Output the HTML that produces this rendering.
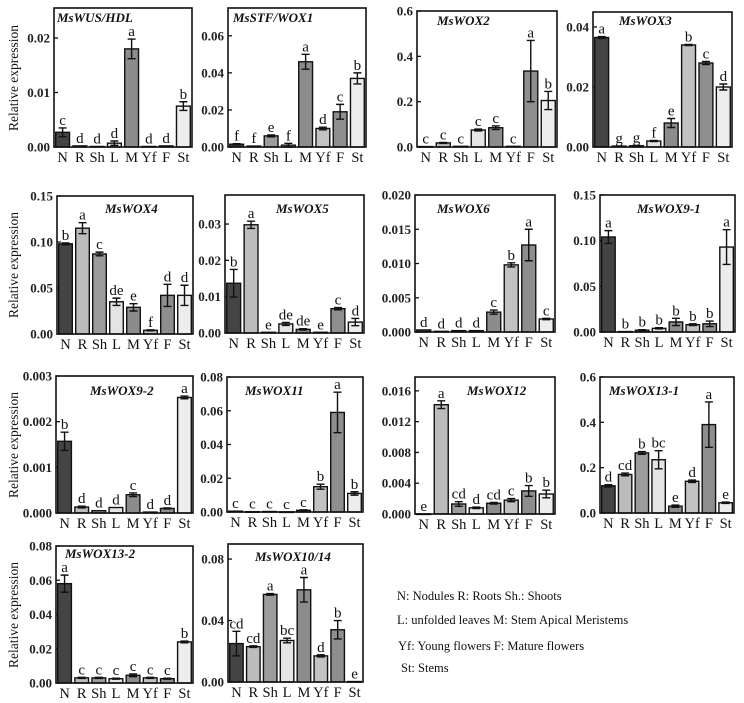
<!DOCTYPE html>
<html><head><meta charset="utf-8">
<style>
html,body{margin:0;padding:0;background:#fff;}
svg{display:block;font-family:"Liberation Serif",serif;}
</style></head>
<body>
<svg id="fig" width="744" height="703" viewBox="0 0 744 703" xmlns="http://www.w3.org/2000/svg">
<g font-size="13.5" fill="#111">
<text transform="translate(18,78) rotate(-90)" text-anchor="middle">Relative expression</text>
<text transform="translate(18,265) rotate(-90)" text-anchor="middle">Relative expression</text>
<text transform="translate(18,445) rotate(-90)" text-anchor="middle">Relative expression</text>
<text transform="translate(18,615) rotate(-90)" text-anchor="middle">Relative expression</text>
</g>
<g font-size="12.5" fill="#111">
<text x="397" y="600">N: Nodules  R: Roots  Sh.: Shoots</text>
<text x="397" y="624">L: unfolded leaves M: Stem Apical Meristems</text>
<text x="398" y="650">Yf: Young flowers  F: Mature flowers</text>
<text x="401" y="672">St: Stems</text>
</g>
</svg>
<script>
const categories = ["N","R","Sh","L","M","Yf","F","St"];
const barColors = ["#444","#bcbcbc","#9c9c9c","#e4e4e4","#8c8c8c","#c2c2c2","#8e8e8e","#ededed"];

const wusValues = [0.0027,0.0002,0.0001,0.0007,0.018,0.0001,0.0002,0.0075];
const wusErrors = [0.0008,0,0,0.0004,0.0018,0,0,0.0008];
const wusLetters = ["c","d","d","d","a","d","d","b"];
const wusTicks = ["0.00","0.01","0.02"];

const stfValues = [0.0015,0.0005,0.006,0.001,0.046,0.01,0.019,0.037];
const stfErrors = [0.0003,0,0.0005,0.001,0.004,0.0007,0.004,0.003];
const stfLetters = ["f","f","e","f","a","d","c","b"];
const stfTicks = ["0.00","0.02","0.04","0.06"];

const wox2Values = [0.002,0.018,0.003,0.075,0.085,0.003,0.335,0.205];
const wox2Errors = [0,0.002,0,0.004,0.008,0,0.135,0.04];
const wox2Letters = ["c","c","c","c","c","c","a","b"];
const wox2Ticks = ["0.0","0.2","0.4","0.6"];

const wox3Values = [0.0365,0.0003,0.0004,0.002,0.008,0.034,0.028,0.02];
const wox3Errors = [0.0003,0,0.0001,0.0002,0.0015,0.0002,0.0005,0.001];
const wox3Letters = ["a","g","g","f","e","b","c","d"];
const wox3Ticks = ["0.00","0.02","0.04"];

const wox4Values = [0.098,0.115,0.087,0.035,0.029,0.004,0.042,0.042];
const wox4Errors = [0.001,0.006,0.002,0.004,0.004,0.0005,0.012,0.011];
const wox4Letters = ["b","a","c","de","e","f","d","d"];
const wox4Ticks = ["0.00","0.05","0.10","0.15"];

const wox5Values = [0.0137,0.0298,0.0002,0.0025,0.001,0.0002,0.0067,0.003];
const wox5Errors = [0.0038,0.001,0,0.0004,0.0002,0,0.0003,0.001];
const wox5Letters = ["b","a","e","de","de","e","c","d"];
const wox5Ticks = ["0.00","0.01","0.02","0.03"];

const wox6Values = [0.0003,0.0001,0.0002,0.0002,0.0029,0.0098,0.0127,0.0019];
const wox6Errors = [0,0,0,0,0.0003,0.0003,0.0023,0.0001];
const wox6Letters = ["d","d","d","d","c","b","a","c"];
const wox6Ticks = ["0.000","0.005","0.010","0.015","0.020"];

const wox91Values = [0.104,0.0005,0.002,0.004,0.011,0.008,0.009,0.093];
const wox91Errors = [0.007,0,0.0005,0.0007,0.004,0.001,0.003,0.019];
const wox91Letters = ["a","b","b","b","b","b","b","a"];
const wox91Ticks = ["0.00","0.05","0.10","0.15"];

const wox92Values = [0.00157,0.00013,0.00005,0.00012,0.0004,0.00002,0.0001,0.00253];
const wox92Errors = [0.0002,0.00002,0,0,0.00004,0,0.00001,0.00003];
const wox92Letters = ["b","d","d","d","c","d","d","a"];
const wox92Ticks = ["0.000","0.001","0.002","0.003"];

const wox11Values = [0.0005,0.0002,0.0003,0.0001,0.001,0.015,0.059,0.011];
const wox11Errors = [0,0,0,0,0.0003,0.0015,0.012,0.001];
const wox11Letters = ["c","c","c","c","c","b","a","b"];
const wox11Ticks = ["0.00","0.02","0.04","0.06","0.08"];

const wox12Values = [0.00002,0.0142,0.0013,0.0008,0.0014,0.0018,0.003,0.0026];
const wox12Errors = [0,0.0005,0.0003,0.0001,0.0001,0.0002,0.0007,0.0005];
const wox12Letters = ["e","a","cd","d","cd","c","b","b"];
const wox12Ticks = ["0.000","0.004","0.008","0.012","0.016"];

const wox131Values = [0.12,0.17,0.265,0.235,0.03,0.14,0.39,0.045];
const wox131Errors = [0.005,0.006,0.006,0.04,0.005,0.005,0.1,0.003];
const wox131Letters = ["d","cd","b","bc","e","d","a","e"];
const wox131Ticks = ["0.0","0.2","0.4","0.6"];

const wox132Values = [0.058,0.003,0.003,0.0025,0.0045,0.003,0.0025,0.024];
const wox132Errors = [0.005,0.0003,0.0003,0.0003,0.0008,0.0003,0.0003,0.0005];
const wox132Letters = ["a","c","c","c","c","c","c","b"];
const wox132Ticks = ["0.00","0.02","0.04","0.06","0.08"];

const wox1014Values = [0.025,0.023,0.057,0.027,0.06,0.017,0.034,0.0003];
const wox1014Errors = [0.008,0.0005,0.0005,0.0015,0.008,0.0007,0.006,0];
const wox1014Letters = ["cd","cd","a","bc","a","d","b","e"];
const wox1014Ticks = ["0.00","0.04","0.08"];

const panels = [
 {name:"MsWUS/HDL",slug:"wus-hdl",v:wusValues,e:wusErrors,l:wusLetters,t:wusTicks,step:0.01,ymax:0.0255,x0:54,x1:192,y0:8,y1:147,tx:57,ty:22},
 {name:"MsSTF/WOX1",slug:"stf-wox1",v:stfValues,e:stfErrors,l:stfLetters,t:stfTicks,step:0.02,ymax:0.075,x0:228,x1:366,y0:8,y1:147,tx:233,ty:22},
 {name:"MsWOX2",slug:"wox2",v:wox2Values,e:wox2Errors,l:wox2Letters,t:wox2Ticks,step:0.2,ymax:0.6,x0:417,x1:557,y0:11,y1:147,tx:437,ty:25},
 {name:"MsWOX3",slug:"wox3",v:wox3Values,e:wox3Errors,l:wox3Letters,t:wox3Ticks,step:0.02,ymax:0.045,x0:593,x1:732,y0:12,y1:147,tx:619,ty:25},
 {name:"MsWOX4",slug:"wox4",v:wox4Values,e:wox4Errors,l:wox4Letters,t:wox4Ticks,step:0.05,ymax:0.15,x0:57,x1:193,y0:196,y1:334,tx:105,ty:213},
 {name:"MsWOX5",slug:"wox5",v:wox5Values,e:wox5Errors,l:wox5Letters,t:wox5Ticks,step:0.01,ymax:0.038,x0:225,x1:364,y0:195,y1:333,tx:276,ty:213},
 {name:"MsWOX6",slug:"wox6",v:wox6Values,e:wox6Errors,l:wox6Letters,t:wox6Ticks,step:0.005,ymax:0.02,x0:415,x1:555,y0:195,y1:332,tx:437,ty:213},
 {name:"MsWOX9-1",slug:"wox9-1",v:wox91Values,e:wox91Errors,l:wox91Letters,t:wox91Ticks,step:0.05,ymax:0.15,x0:600,x1:735,y0:195,y1:332,tx:637,ty:213},
 {name:"MsWOX9-2",slug:"wox9-2",v:wox92Values,e:wox92Errors,l:wox92Letters,t:wox92Ticks,step:0.001,ymax:0.003,x0:56,x1:193,y0:376,y1:513,tx:90,ty:395},
 {name:"MsWOX11",slug:"wox11",v:wox11Values,e:wox11Errors,l:wox11Letters,t:wox11Ticks,step:0.02,ymax:0.08,x0:227,x1:363,y0:377,y1:512,tx:245,ty:395},
 {name:"MsWOX12",slug:"wox12",v:wox12Values,e:wox12Errors,l:wox12Letters,t:wox12Ticks,step:0.004,ymax:0.0178,x0:415,x1:555,y0:377,y1:514,tx:467,ty:395},
 {name:"MsWOX13-1",slug:"wox13-1",v:wox131Values,e:wox131Errors,l:wox131Letters,t:wox131Ticks,step:0.2,ymax:0.6,x0:600,x1:734,y0:377,y1:513,tx:609,ty:395},
 {name:"MsWOX13-2",slug:"wox13-2",v:wox132Values,e:wox132Errors,l:wox132Letters,t:wox132Ticks,step:0.02,ymax:0.08,x0:56,x1:193,y0:546,y1:683,tx:65,ty:558},
 {name:"MsWOX10/14",slug:"wox10-14",v:wox1014Values,e:wox1014Errors,l:wox1014Letters,t:wox1014Ticks,step:0.04,ymax:0.0898,x0:228,x1:363,y0:544,y1:682,tx:255,ty:561}
];

const NS = "http://www.w3.org/2000/svg";
const svg = document.getElementById("fig");
function mk(tag, attrs, parent){
  const el = document.createElementNS(NS, tag);
  for (const k in attrs) el.setAttribute(k, attrs[k]);
  parent.appendChild(el);
  return el;
}
panels.forEach(p => {
  const g = mk("g", {}, svg);
  
  
  const w = p.x1 - p.x0;
  const band = w / categories.length;
  const bw = band * 0.8;
  const yScale = v => p.y1 - (v / p.ymax) * (p.y1 - p.y0);
  const xScale = i => p.x0 + band * (i + 0.5);
  p.t.forEach((lab, i) => {
    const y = yScale(i * p.step);
    const tk = mk("line", {x1:p.x0, x2:p.x0+4, y1:y, y2:y, stroke:"#111", "stroke-width":1.3}, g);
    
    
    const tl = mk("text", {x:p.x0-4, y:y+4.5, "text-anchor":"end", "font-size":"13", "font-weight":"bold", fill:"#222"}, g);
    tl.textContent = lab;
    
    
  });
  categories.forEach((c, i) => {
    const v = p.v[i], e = p.e[i];
    const cx = xScale(i);
    const yt = yScale(v);
    const bar = mk("rect", {x:cx-bw/2, y:yt, width:bw, height:Math.max(p.y1-yt,0.6), fill:barColors[i], stroke:"#111", "stroke-width":1.4}, g);
    
    
    let top = yt;
    if (e > 0) {
      const ya = yScale(v + e), yb = yScale(Math.max(v - e, 0));
      top = ya;
      const eb = mk("path", {d:`M${cx},${ya}V${yb}M${cx-4},${ya}H${cx+4}M${cx-4},${yb}H${cx+4}`, stroke:"#111", "stroke-width":1.4, fill:"none"}, g);
      
      
    }
    const lt = mk("text", {x:cx, y:top-3, "text-anchor":"middle", "font-size":"15", fill:"#111"}, g);
    lt.textContent = p.l[i];
    
    
    const xl = mk("text", {x:cx, y:p.y1+15, "text-anchor":"middle", "font-size":"14.5", fill:"#111"}, g);
    xl.textContent = c;
    
    
  });
  const fr = mk("rect", {x:p.x0, y:p.y0, width:w, height:p.y1-p.y0, fill:"none", stroke:"#111", "stroke-width":1.6}, g);
  
  
  const ti = mk("text", {x:p.tx, y:p.ty, "font-size":"13", "font-weight":"bold", "font-style":"italic", fill:"#111"}, g);
  ti.textContent = p.name;
  
  
});
</script>
</body></html>
